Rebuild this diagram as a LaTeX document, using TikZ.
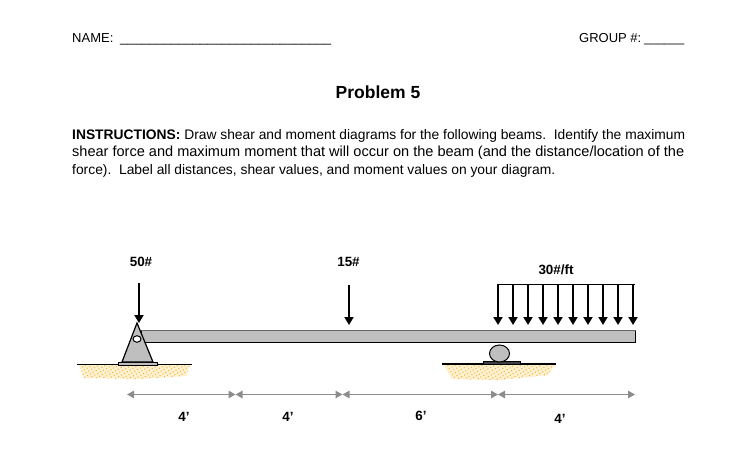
\documentclass[tikz,border=0pt]{standalone}
\usepackage{fontspec}
\setmainfont{Liberation Sans}
\usetikzlibrary{arrows.meta,patterns.meta,shapes.geometric}
\definecolor{beamgray}{HTML}{BFBFBF}
\definecolor{dimgray}{HTML}{8C8C8C}
\definecolor{sandfill}{HTML}{FFF2D2}
\definecolor{sanddot}{HTML}{F7B032}
\tikzset{
  txt/.style={inner sep=0pt,font=\fontsize{13}{16}\selectfont,anchor=base west},
  lbl/.style={inner sep=0pt,font=\bfseries\fontsize{13.4}{15}\selectfont,anchor=base},
  load/.style={draw=black,line width=1.8pt,-{Triangle[length=8pt,width=9pt]}},
  dimline/.style={draw=dimgray,line width=1.2pt,{Triangle[length=7pt,width=7.5pt]}-{Triangle[length=7pt,width=7.5pt]}},
  sandbase/.style={fill=sandfill},
  sand/.style={pattern={Dots[radius=.75pt,distance=3.3pt,angle=30]},pattern color=sanddot},
  groundline/.style={draw=black,line width=1.1pt},
}
\begin{document}
\begin{tikzpicture}[x=1pt,y=-1pt]
\useasboundingbox (0,0) rectangle (743,468);
\node[txt] (name) at (72,42.5) {NAME:};
\node[txt] (nameline) at (120,42.5) {\resizebox{211pt}{!}{\_\_\_\_\_\_\_\_\_\_\_\_\_\_\_\_\_\_\_\_\_\_\_\_\_\_\_\_\_}};
\node[txt] (group) at (579,42.5) {GROUP \#:};
\node[txt] (groupline) at (644,42.5) {\resizebox{40pt}{!}{\_\_\_\_\_\_}};
\node[inner sep=0pt,font=\bfseries\fontsize{17.5}{20}\selectfont,anchor=base] (title) at (378,99) {Problem 5};
\node[txt] (l1) at (72,139.5) {\resizebox{613pt}{!}{\textbf{INSTRUCTIONS:} Draw shear and moment diagrams for the following beams.\ \ Identify the maximum}};
\node[txt] (l2) at (72,156.5) {\resizebox{612pt}{!}{shear force and maximum moment that will occur on the beam (and the distance/location of the}};
\node[txt] (l3) at (72,174.5) {\resizebox{483pt}{!}{force).\ \ Label all distances, shear values, and moment values on your diagram.}};

% ground
\path[sandbase] (79,365) -- (190,365) -- (186,376) -- (140,379) -- (84,378) -- cycle;
\path[sand] (79,365) -- (190,365) -- (186,376) -- (140,379) -- (84,378) -- cycle;
\path[sandbase] (444,365) -- (555,365) -- (548,375) -- (500,380) -- (452,379) -- cycle;
\path[sand] (444,365) -- (555,365) -- (548,375) -- (500,380) -- (452,379) -- cycle;
\coordinate (g1a) at (77,364.5); \coordinate (g1b) at (192,364.5);
\coordinate (g2a) at (442,364); \coordinate (g2b) at (556,364);
\draw[groundline] (g1a) -- (g1b);
\draw[groundline] (g2a) -- (g2b);

% beam
\node[draw=black,fill=beamgray,line width=1pt,inner sep=0pt,minimum width=493.5pt,minimum height=12pt,anchor=north west] (beam) at (141,330) {};
\draw[black!60,line width=1pt] (beam.north west) -- (beam.north east);

% pin support
\node[draw=black,fill=beamgray,line width=1pt,inner sep=0pt,minimum width=39pt,minimum height=3pt,anchor=north west] (plateA) at (118,362) {};
\draw[fill=beamgray,line width=1.2pt,line join=miter] (122,362) -- (137,323) -- (153,362) -- cycle;
\node[draw=black,fill=white,line width=1pt,ellipse,inner sep=0pt,minimum width=8pt,minimum height=6.5pt] (pin) at (137,339) {};

% roller support
\node[draw=black,fill=black!75,line width=1pt,inner sep=0pt,minimum width=37pt,minimum height=3pt,anchor=north west] (plateB) at (482.5,361) {};
\node[draw=black,fill=beamgray,line width=1pt,ellipse,inner sep=0pt,minimum width=20pt,minimum height=17pt] (roller) at (499.5,353.5) {};

% point loads
\coordinate (a50s) at (139,283); \coordinate (a50e) at (139,323);
\coordinate (a15s) at (349,285); \coordinate (a15e) at (349,325);
\draw[load] (a50s) -- (a50e);
\draw[load] (a15s) -- (a15e);
\node[lbl] (t50) at (141,266.5) {50\#};
\node[lbl] (t15) at (348.5,266.5) {15\#};

% distributed load
\coordinate (ds) at (497,284.5); \coordinate (de) at (634.5,284.5);
\draw[black,line width=1pt] (ds) -- (de);
\foreach \i [evaluate=\i as \xx using 498+15.0*\i] in {0,...,9} {
  \coordinate (u\i) at (\xx,284.5);
  \coordinate (v\i) at (\xx,325);
  \draw[load] (u\i) -- (v\i);
}
\node[lbl] (t30) at (556,274.5) {30\#/ft};

% dimensions
\coordinate (d0) at (127,394.5);
\coordinate (d1) at (235.5,394.5);
\coordinate (d2) at (342.5,394.5);
\coordinate (d3) at (498,394.5);
\coordinate (d4) at (635,394.5);
\draw[dimline] (d0) -- (d1);
\draw[dimline] (d1) -- (d2);
\draw[dimline] (d2) -- (d3);
\draw[dimline] (d3) -- (d4);
\node[lbl] (s1) at (184,421.5) {4’};
\node[lbl] (s2) at (288,421.5) {4’};
\node[lbl] (s3) at (421,420.5) {6’};
\node[lbl] (s4) at (560,423.5) {4’};
\end{tikzpicture}
\end{document}
